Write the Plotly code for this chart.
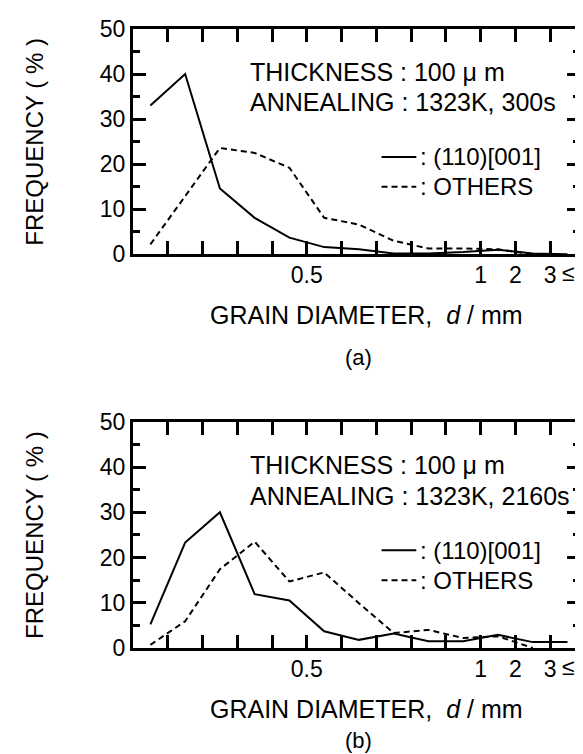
import plotly.graph_objects as go

# bin centres expressed in tick-index units (ticks at 0..11; 0.5 mm at 4, 1 at 9, 2 at 10, 3<= at 11)
bin_pos = [-0.5, 0.5, 1.5, 2.5, 3.5, 4.5, 5.5, 6.5, 7.5, 8.5, 9.5, 10.5, 11.5]

a_110 = [33.0, 40.0, 14.6, 8.1, 3.7, 1.6, 1.1, 0.2, 0.2, 0.5, 1.0, 0.2, 0.0]
a_others = [2.2, 13.0, 23.6, 22.5, 19.2, 8.1, 6.6, 3.0, 1.3, 1.3, 1.1, 0.0, None]

b_110 = [5.2, 23.3, 30.0, 11.9, 10.5, 3.7, 1.8, 3.2, 1.5, 1.5, 2.9, 1.3, 1.3]
b_others = [0.7, 5.9, 17.4, 23.5, 14.7, 16.7, 9.9, 3.3, 4.0, 2.2, 2.6, 0.0, None]

tick_pos = [0, 1, 2, 3, 4, 5, 6, 7, 8, 9, 10, 11]
tick_text = ["", "", "", "", "0.5", "", "", "", "", "1", "2", "3"]
y_ticks = [0, 10, 20, 30, 40, 50]

FONT = "Liberation Sans, Arial, sans-serif"
FS = 25

fig = go.Figure()
for xa, ya, s110, soth in [("x", "y", a_110, a_others), ("x2", "y2", b_110, b_others)]:
    fig.add_trace(go.Scatter(x=bin_pos, y=s110, mode="lines", xaxis=xa, yaxis=ya,
                             line=dict(color="black", width=2), showlegend=False))
    fig.add_trace(go.Scatter(x=bin_pos, y=soth, mode="lines", xaxis=xa, yaxis=ya,
                             line=dict(color="black", width=2, dash="6px,4px"), showlegend=False))

xcommon = dict(range=[-1, 11.86], tickvals=tick_pos, ticktext=tick_text, ticks="inside",
               ticklen=13, tickwidth=2.5, tickcolor="black", showline=True, linecolor="black",
               linewidth=3, mirror="ticks", showgrid=False, zeroline=False,
               ticklabelstandoff=-2,
               tickfont=dict(family=FONT, size=23, color="black"))
ycommon = dict(range=[0, 50], tickvals=y_ticks, ticks="inside", ticklen=13, tickwidth=2.5,
               tickcolor="black", showline=True, linecolor="black", linewidth=3, mirror="ticks",
               showgrid=False, zeroline=False,
               minor=dict(dtick=5, ticks="inside", ticklen=7, tickwidth=2.5, tickcolor="black"),
               tickfont=dict(family=FONT, size=23, color="black"))

fig.update_layout(
    width=583, height=754,
    margin=dict(l=125, r=8, t=19, b=114),
    paper_bgcolor="white", plot_bgcolor="white",
    xaxis=dict(domain=[0, 1], anchor="y", **xcommon),
    yaxis=dict(domain=[0.636, 1.0], anchor="x", **ycommon),
    xaxis2=dict(domain=[0, 1], anchor="y2", **xcommon),
    yaxis2=dict(domain=[0.0, 0.3655], anchor="x2", **ycommon),
    font=dict(family=FONT, size=FS, color="black"),
)

ann = []
shapes = []
for xr, yr, tlabel, anneal in [("x", "y", "(a)", "ANNEALING : 1323K, 300s"),
                               ("x2", "y2", "(b)", "ANNEALING : 1323K, 2160s")]:
    ann.append(dict(x=2.3, y=40.4, xref=xr, yref=yr, text="THICKNESS : 100 μ m",
                    showarrow=False, xanchor="left", yanchor="middle", font=dict(size=FS)))
    ann.append(dict(x=2.3, y=33.7, xref=xr, yref=yr, text=anneal,
                    showarrow=False, xanchor="left", yanchor="middle", font=dict(size=FS)))
    ann.append(dict(x=7.2, y=21.6, xref=xr, yref=yr, text=": (110)[001]",
                    showarrow=False, xanchor="left", yanchor="middle", font=dict(size=24)))
    ann.append(dict(x=7.2, y=15.0, xref=xr, yref=yr, text=": OTHERS",
                    showarrow=False, xanchor="left", yanchor="middle", font=dict(size=24)))
    ann.append(dict(x=11.28, y=0, xref=xr, yref=yr, text="≤", yshift=-19,
                    showarrow=False, xanchor="left", yanchor="middle",
                    font=dict(size=23)))
    shapes.append(dict(type="line", xref=xr, yref=yr, x0=6.15, x1=7.15, y0=21.6, y1=21.6,
                       line=dict(color="black", width=2)))
    shapes.append(dict(type="line", xref=xr, yref=yr, x0=6.15, x1=7.15, y0=15.0, y1=15.0,
                       line=dict(color="black", width=2, dash="6px,4px")))
    dom = "y domain" if yr == "y" else "y2 domain"
    ann.append(dict(x=0.5, y=0, xref=f"{xr} domain", yref=dom, text="GRAIN DIAMETER,  <i>d</i> / mm",
                    showarrow=False, xanchor="center", yanchor="middle", yshift=-61, xshift=10,
                    font=dict(size=FS)))
    ann.append(dict(x=0.5, y=0, xref=f"{xr} domain", yref=dom, text=tlabel,
                    showarrow=False, xanchor="center", yanchor="bottom", yshift=-118 if tlabel == "(a)" else -107,
                    xshift=2, font=dict(size=22)))
    ann.append(dict(x=0, y=0.5, xref=f"{xr} domain", yref=dom, text="FREQUENCY ( % )",
                    showarrow=False, xanchor="center", yanchor="middle", textangle=-90,
                    xshift=-98, font=dict(size=24)))

fig.update_layout(annotations=ann, shapes=shapes)
fig.write_html("out.html")
